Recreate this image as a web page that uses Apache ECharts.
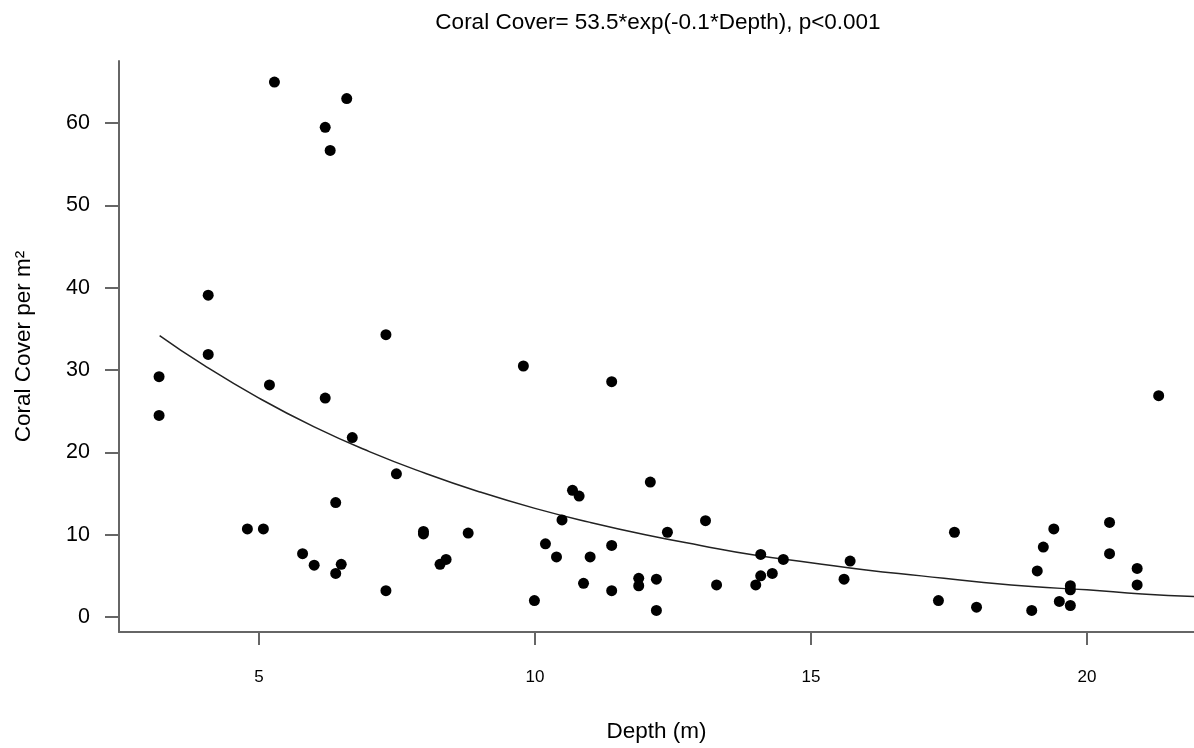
<!DOCTYPE html>
<html>
<head>
<meta charset="utf-8">
<script src="https://cdn.jsdelivr.net/npm/echarts@6/dist/echarts.min.js"></script>
<style>
  html, body { margin: 0; padding: 0; background: #fff; }
  #chart { width: 1194px; height: 748px; }
</style>
</head>
<body>
<div id="chart"></div>
<script>
var depthData = [5.28, 6.59, 6.20, 6.29, 4.08, 7.30, 4.08, 3.19, 3.19, 5.19, 6.20, 6.69, 7.49, 6.39,
    4.79, 5.08, 7.98, 7.98, 5.79, 6.00, 6.49, 6.39, 7.30, 8.28, 8.39,
    9.79, 11.39, 12.09, 10.68, 10.80, 10.49, 13.09, 8.79, 12.40, 10.19, 11.39, 10.39, 11.00,
    14.09, 14.50, 10.88, 11.88, 11.88, 12.20, 11.39, 9.99, 12.20, 13.29, 14.09, 14.30, 14.00,
    21.30, 15.71, 15.60, 17.60, 17.31, 18.00, 19.00, 19.10, 19.21, 19.40, 19.50, 19.70, 19.70,
    19.70, 20.41, 20.41, 20.91, 20.91];
var coverData = [65.0, 63.0, 59.5, 56.7, 39.1, 34.3, 31.9, 29.2, 24.5, 28.2, 26.6, 21.8, 17.4, 13.9,
    10.7, 10.7, 10.4, 10.1, 7.7, 6.3, 6.4, 5.3, 3.2, 6.4, 7.0,
    30.5, 28.6, 16.4, 15.4, 14.7, 11.8, 11.7, 10.2, 10.3, 8.9, 8.7, 7.3, 7.3,
    7.6, 7.0, 4.1, 4.7, 3.8, 4.6, 3.2, 2.0, 0.8, 3.9, 5.0, 5.3, 3.9,
    26.9, 6.8, 4.6, 10.3, 2.0, 1.2, 0.8, 5.6, 8.5, 10.7, 1.9, 3.8, 3.3,
    1.4, 11.5, 7.7, 5.9, 3.9];

// fitted curve as drawn in the reference
var fitDepth = [3.2, 4, 5, 6, 7, 8, 9, 10, 11, 12, 13, 14, 15, 16, 17, 18, 19, 20, 21, 21.94];
var fitCover = [34.2, 30.6, 26.6, 23.1, 20.1, 17.5, 15.2, 13.2, 11.5, 10.0, 8.7, 7.5, 6.6, 5.7, 5.0, 4.3, 3.7, 3.3, 2.8, 2.5];

var xTicks = [5, 10, 15, 20];
var yTicks = [0, 10, 20, 30, 40, 50, 60];

var pts = depthData.map(function (d, i) { return [d, coverData[i]]; });
var fit = fitDepth.map(function (d, i) { return [d, fitCover[i]]; });

var chart = echarts.init(document.getElementById('chart'), null, { renderer: 'canvas' });
var font = 'Liberation Sans, Arial, sans-serif';

var option = {
    backgroundColor: '#fff',
    animation: false,
    title: {
        text: 'Coral Cover= 53.5*exp(-0.1*Depth), p<0.001',
        left: 653,
        top: 6,
        textAlign: 'center',
        textStyle: { fontFamily: font, fontSize: 22.5, fontWeight: 'normal', color: '#000' }
    },
    grid: { left: 119, top: 61, right: 0, bottom: 116 },
    xAxis: {
        type: 'value',
        min: 2.464,
        max: 21.94,
        name: 'Depth (m)',
        nameLocation: 'middle',
        nameGap: 88,
        nameTextStyle: { fontFamily: font, fontSize: 22.5, color: '#000' },
        splitLine: { show: false },
        axisLine: { onZero: false, lineStyle: { color: '#666', width: 2 } },
        axisTick: { customValues: xTicks, length: 13, inside: false, lineStyle: { color: '#666', width: 2 } },
        axisLabel: { customValues: xTicks, margin: 37, fontFamily: font, fontSize: 17, color: '#000' }
    },
    yAxis: {
        type: 'value',
        min: -1.82,
        max: 67.56,
        name: 'Coral Cover per m²',
        nameLocation: 'middle',
        nameGap: 84,
        nameTextStyle: { fontFamily: font, fontSize: 22.5, color: '#000' },
        splitLine: { show: false },
        axisLine: { show: true, onZero: false, lineStyle: { color: '#666', width: 2 } },
        axisTick: { show: true, customValues: yTicks, length: 14, lineStyle: { color: '#666', width: 2 } },
        axisLabel: { customValues: yTicks, margin: 29, fontFamily: font, fontSize: 21.5, color: '#000' }
    },
    series: [
        {
            name: 'fit',
            type: 'line',
            data: fit,
            smooth: true,
            showSymbol: false,
            lineStyle: { color: '#222', width: 1.5 },
            z: 1
        },
        {
            name: 'obs',
            type: 'scatter',
            data: pts,
            symbolSize: 11,
            itemStyle: { color: '#000', opacity: 1 },
            z: 2
        }
    ]
};

chart.setOption(option);
</script>
</body>
</html>
